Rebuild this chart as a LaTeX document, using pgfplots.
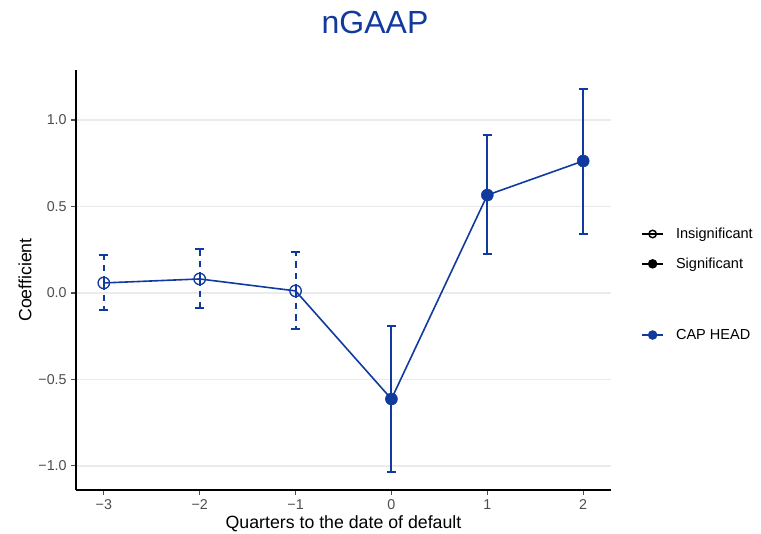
\documentclass[border=0pt]{standalone}
\usepackage{pgfplots}
\pgfplotsset{compat=1.18}
\usepackage{fontspec}
\setmainfont{Liberation Sans}
\definecolor{capblue}{RGB}{16,58,158}
\definecolor{gridgray}{RGB}{235,235,235}
\definecolor{ticklab}{RGB}{77,77,77}
\pgfplotsset{
  legimg/.style={legend image code/.code={
    \draw[mark repeat=2,mark phase=2,##1] plot coordinates {(0pt,0pt)(8pt,0pt)(16pt,0pt)};}},
}
\begin{document}
\begin{tikzpicture}
\useasboundingbox (0pt,0pt) rectangle (570.75pt,399.75pt);
\node[text=capblue, font=\fontsize{24}{28}\selectfont] at (281.25pt,383.25pt) {nGAAP};
\begin{axis}[
  at={(57pt,32.25pt)}, anchor=south west,
  width=401.25pt, height=315pt, scale only axis,
  xmin=-3.29, xmax=2.29, ymin=-1.139, ymax=1.289,
  axis x line*=bottom, axis y line*=left,
  axis line style={black, line width=1.1pt, -},
  xtick={-3,-2,-1,0,1,2}, xticklabels={−3,−2,−1,0,1,2},
  ytick={-1,-0.5,0,0.5,1}, yticklabels={−1.0,−0.5,0.0,0.5,1.0},
  tick align=outside, major tick length=3.5pt,
  tick style={ticklab, line width=0.8pt},
  ymajorgrids, grid style={gridgray, line width=1.1pt},
  tick label style={font=\fontsize{10.7}{12}\selectfont, text=ticklab},
  every axis x label/.style={at={(axis description cs:0.5,-0.08)}, anchor=center},
  every axis y label/.style={at={(axis description cs:-0.0953,0.5)}, rotate=90, anchor=center},
  label style={font=\fontsize{13.3}{15}\selectfont},
  xlabel={Quarters to the date of default},
  ylabel={Coefficient},
  legend style={at={(1.056,0.574)}, anchor=west, draw=none, fill=none, inner sep=0pt,
    row sep=9pt, column sep=7pt, font=\fontsize{10.9}{12}\selectfont},
  legend cell align=left,
  clip=false,
]
\addplot[capblue, line width=1.2pt, mark=none, forget plot] coordinates {
  (-3,0.058) (-2,0.081) (-1,0.012) (0,-0.613) (1,0.566) (2,0.763)};
\addplot[capblue, only marks, mark=o, mark size=4.3pt, mark options={line width=1pt, solid},
  forget plot,
  error bars/.cd, y dir=both, y explicit,
  error bar style={capblue, line width=1.5pt, dash pattern=on 5pt off 3.75pt},
  error mark options={capblue, rotate=90, mark size=3.4pt, line width=1.5pt, solid}]
  coordinates {
  (-3,0.058) += (0,0.162) -= (0,0.156)
  (-2,0.081) += (0,0.173) -= (0,0.168)
  (-1,0.012) += (0,0.225) -= (0,0.220)
};
\addplot[capblue, only marks, mark=*, mark size=4.5pt, forget plot,
  error bars/.cd, y dir=both, y explicit,
  error bar style={capblue, line width=1.5pt, solid},
  error mark options={capblue, rotate=90, mark size=3.4pt, line width=1.5pt, solid}]
  coordinates {
  (0,-0.613) += (0,0.423) -= (0,0.422)
  (1,0.566) += (0,0.347) -= (0,0.341)
  (2,0.763) += (0,0.416) -= (0,0.422)
};
\addlegendimage{legimg, black, line width=1.1pt, mark=o, mark size=2.8pt, mark options={fill=white}}
\addlegendentry{Insignificant}
\addlegendimage{legimg, black, line width=1.1pt, mark=*, mark size=3pt}
\addlegendentry{Significant}
\end{axis}
\begin{axis}[
  at={(57pt,32.25pt)}, anchor=south west,
  width=401.25pt, height=315pt, scale only axis,
  hide axis, xmin=0, xmax=1, ymin=0, ymax=1,
  legend style={at={(1.056,0.369)}, anchor=west, draw=none, fill=none, inner sep=0pt,
    column sep=7pt, font=\fontsize{10.9}{12}\selectfont},
  legend cell align=left,
]
\addlegendimage{legimg, capblue, line width=1.1pt, mark=*, mark size=3pt}
\addlegendentry{CAP HEAD}
\end{axis}
\end{tikzpicture}
\end{document}
